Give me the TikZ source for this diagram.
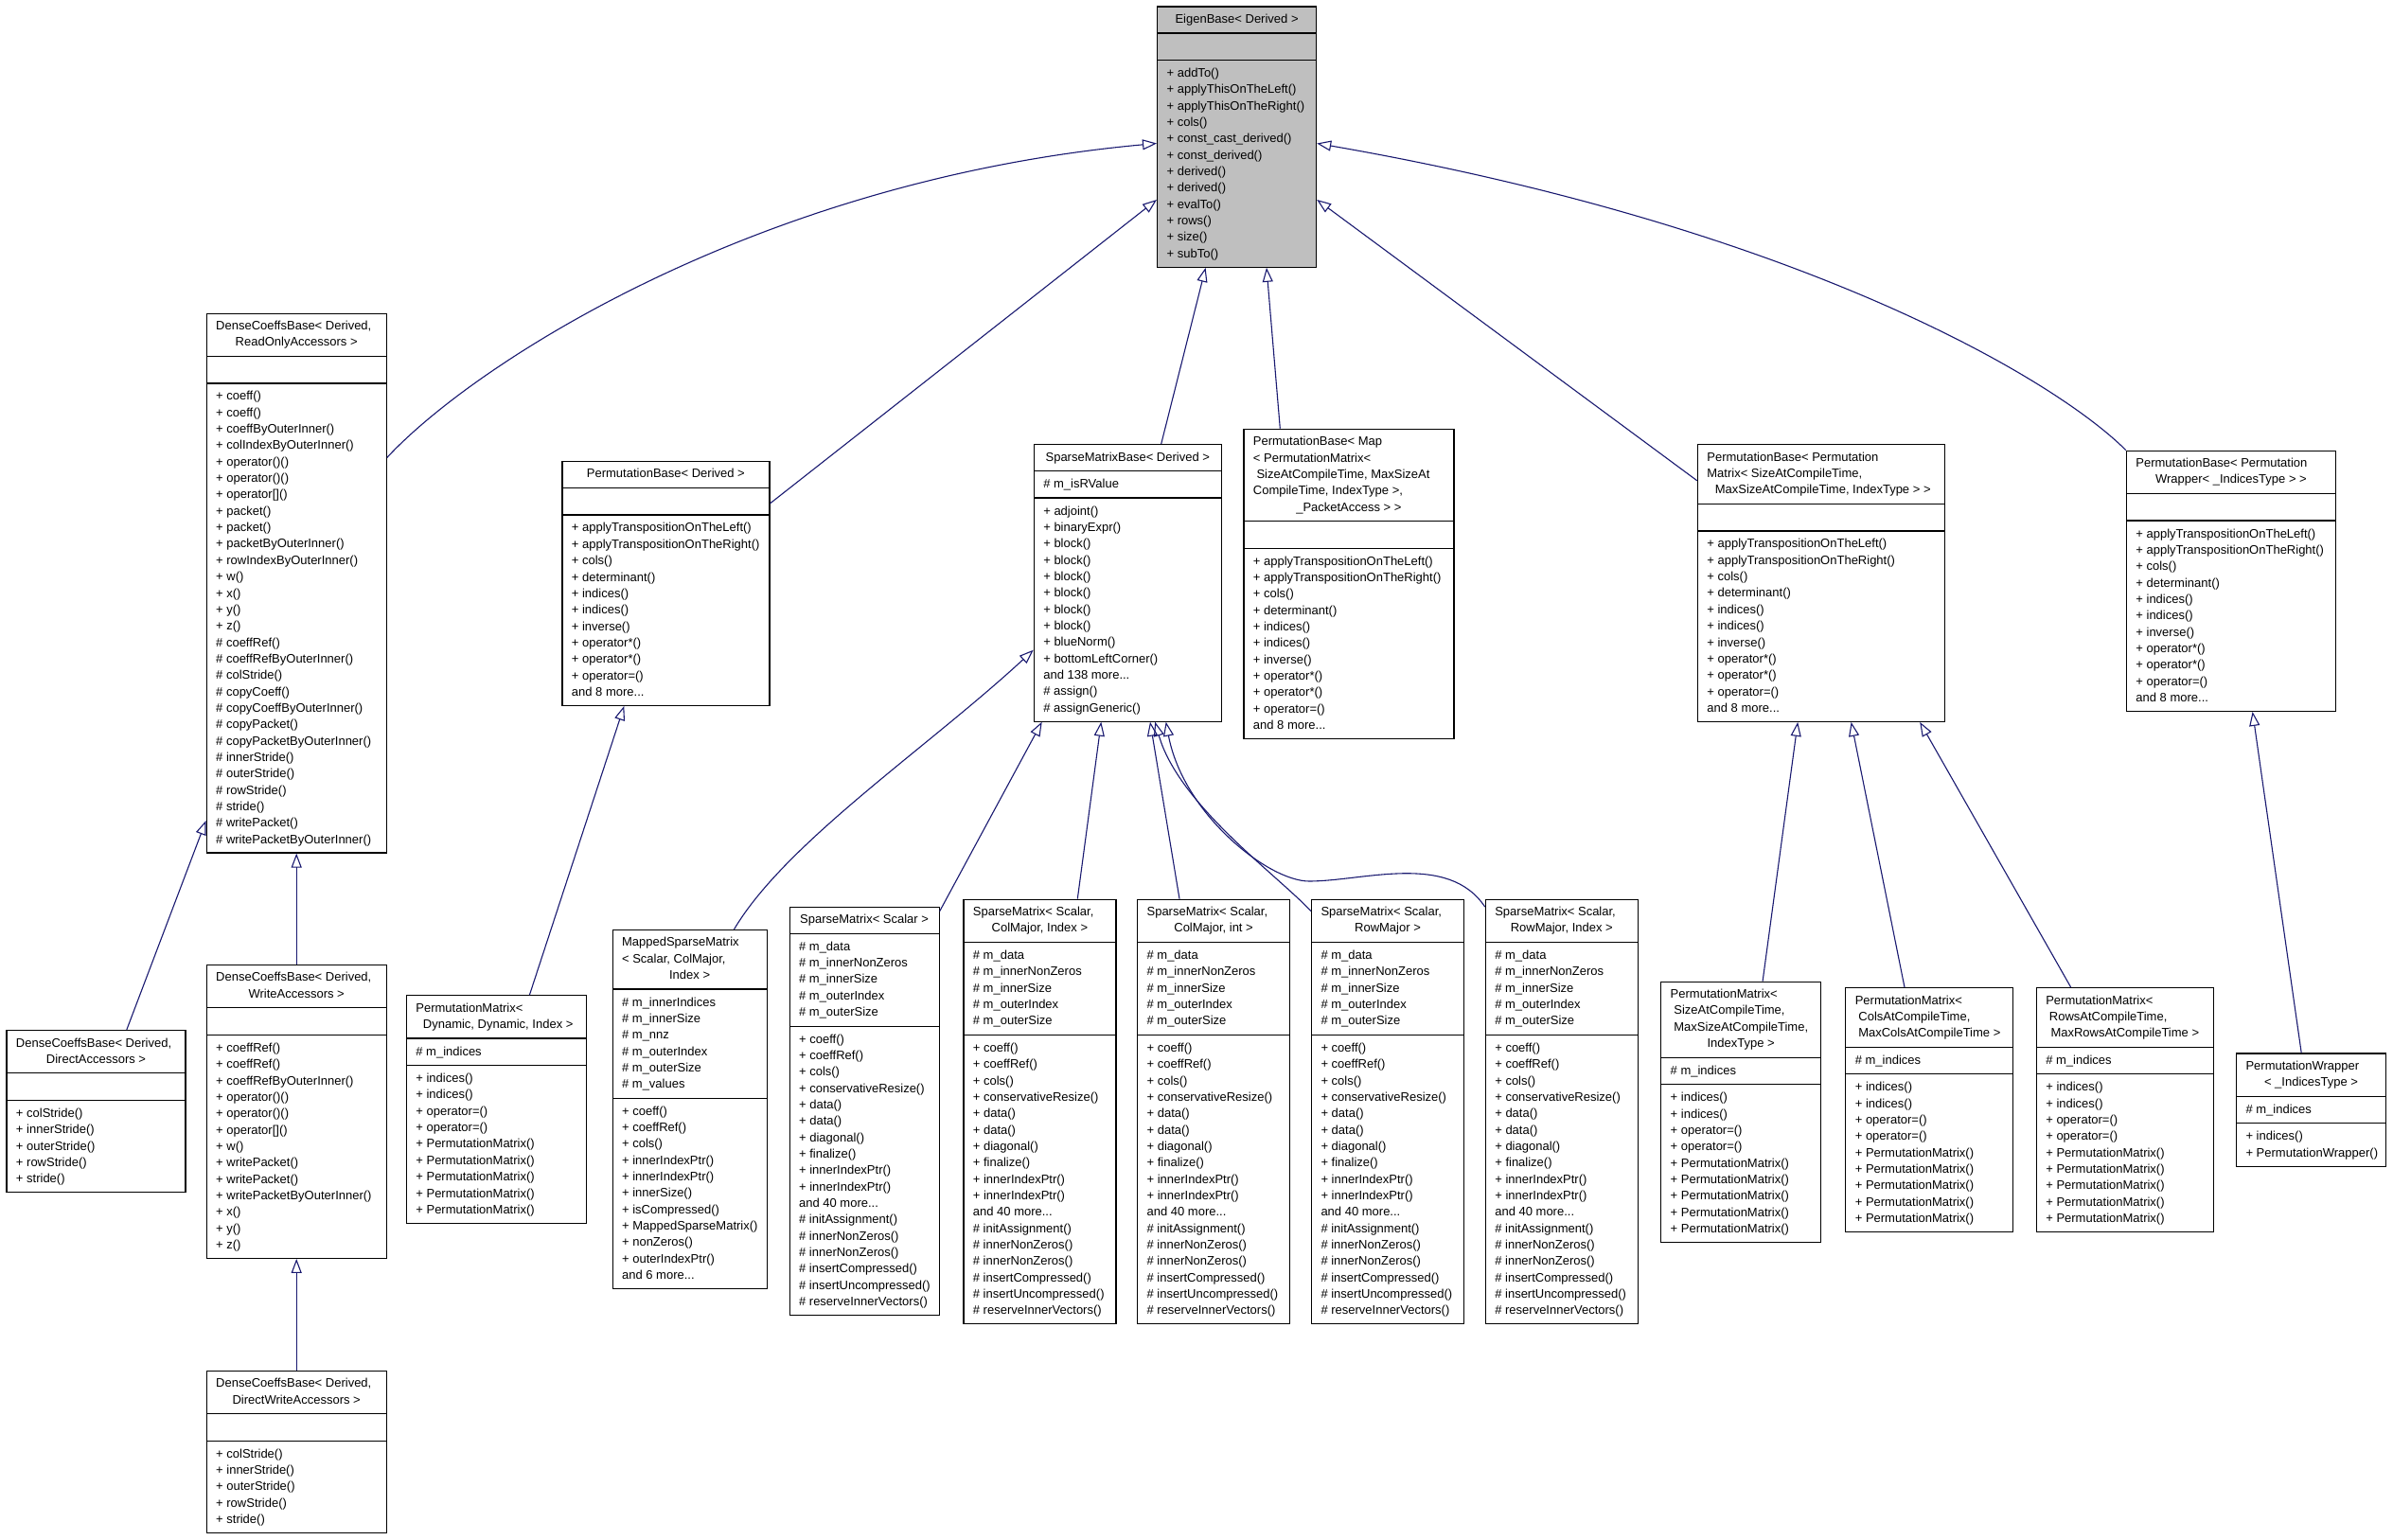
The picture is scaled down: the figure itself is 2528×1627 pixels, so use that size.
\documentclass[tikz,border=0pt]{standalone}
\usepackage{fontspec}
\usepackage{graphicx}
\setmainfont{Liberation Sans}
\usetikzlibrary{arrows.meta,calc}
\definecolor{edgeblue}{HTML}{191970}
\definecolor{ebfill}{HTML}{BFBFBF}
\newsavebox\zbox
\newcommand\zs{\vrule height6.2pt depth2.47pt width0pt}
\newcommand\zfit[2]{\sbox\zbox{#2}\ifdim\wd\zbox>#1\resizebox{#1}{\height}{\usebox\zbox}\else\usebox\zbox\fi}
\newcommand\zl[1]{\hbox to\hsize{\hskip5pt\zs\zfit{\dimexpr\hsize-8pt\relax}{#1}\hfil}}
\newcommand\zc[1]{\hbox to\hsize{\hfil\zs\zfit{\dimexpr\hsize-6pt\relax}{#1}\hfil}}
\newcommand\zsec[1]{\kern2.5pt#1\kern2.5pt}
\newcommand\zrule{\hrule height0.6pt}
\newcommand\clsbody[4]{\vbox{\hsize=\dimexpr#1pt/2\relax\offinterlineskip\zsec{#2}\zrule\zsec{#3}\zrule\zsec{#4}}}
\newcommand\zempty{\zl{}}
\newcommand\pbmeth{\zl{+ applyTranspositionOnTheLeft()}\zl{+ applyTranspositionOnTheRight()}\zl{+ cols()}\zl{+ determinant()}\zl{+ indices()}\zl{+ indices()}\zl{+ inverse()}\zl{+ operator*()}\zl{+ operator*()}\zl{+ operator=()}\zl{and 8 more...}}
\newcommand\pmmeth{\zl{+ indices()}\zl{+ indices()}\zl{+ operator=()}\zl{+ operator=()}\zl{+ PermutationMatrix()}\zl{+ PermutationMatrix()}\zl{+ PermutationMatrix()}\zl{+ PermutationMatrix()}\zl{+ PermutationMatrix()}}
\newcommand\smattr{\zl{\# m\_data}\zl{\# m\_innerNonZeros}\zl{\# m\_innerSize}\zl{\# m\_outerIndex}\zl{\# m\_outerSize}}
\newcommand\smmeth{\zl{+ coeff()}\zl{+ coeffRef()}\zl{+ cols()}\zl{+ conservativeResize()}\zl{+ data()}\zl{+ data()}\zl{+ diagonal()}\zl{+ finalize()}\zl{+ innerIndexPtr()}\zl{+ innerIndexPtr()}\zl{and 40 more...}\zl{\# initAssignment()}\zl{\# innerNonZeros()}\zl{\# innerNonZeros()}\zl{\# insertCompressed()}\zl{\# insertUncompressed()}\zl{\# reserveInnerVectors()}}
\newcommand\dameth{\zl{+ colStride()}\zl{+ innerStride()}\zl{+ outerStride()}\zl{+ rowStride()}\zl{+ stride()}}
\begin{document}
\begin{tikzpicture}[x=0.5pt,y=-0.5pt,
  cls/.style={draw=black, line width=0.6pt, fill=white, inner sep=0pt, anchor=north west, font=\fontsize{6.5}{8.67}\selectfont},
  inh/.style={draw=edgeblue, line width=0.55pt, -{Triangle[open,length=7.5pt,width=5.5pt]}}]
\fill[white] (0,0) rectangle (2528,1627);
\useasboundingbox (0,0) rectangle (2528,1627);

\node[cls,fill=ebfill] (EB) at (1222,6.5) {\clsbody{168}{\zc{EigenBase< Derived >}}{\zempty}{\zl{+ addTo()}\zl{+ applyThisOnTheLeft()}\zl{+ applyThisOnTheRight()}\zl{+ cols()}\zl{+ const\_cast\_derived()}\zl{+ const\_derived()}\zl{+ derived()}\zl{+ derived()}\zl{+ evalTo()}\zl{+ rows()}\zl{+ size()}\zl{+ subTo()}}};

\node[cls] (RO) at (217.6,330.5) {\clsbody{190}{\zl{DenseCoeffsBase< Derived,}\zc{ReadOnlyAccessors >}}{\zempty}{\zl{+ coeff()}\zl{+ coeff()}\zl{+ coeffByOuterInner()}\zl{+ colIndexByOuterInner()}\zl{+ operator()()}\zl{+ operator()()}\zl{+ operator[]()}\zl{+ packet()}\zl{+ packet()}\zl{+ packetByOuterInner()}\zl{+ rowIndexByOuterInner()}\zl{+ w()}\zl{+ x()}\zl{+ y()}\zl{+ z()}\zl{\# coeffRef()}\zl{\# coeffRefByOuterInner()}\zl{\# colStride()}\zl{\# copyCoeff()}\zl{\# copyCoeffByOuterInner()}\zl{\# copyPacket()}\zl{\# copyPacketByOuterInner()}\zl{\# innerStride()}\zl{\# outerStride()}\zl{\# rowStride()}\zl{\# stride()}\zl{\# writePacket()}\zl{\# writePacketByOuterInner()}}};

\node[cls] (PBD) at (593.3,486.9) {\clsbody{219}{\zc{PermutationBase< Derived >}}{\zempty}{\pbmeth}};

\node[cls] (SMB) at (1091.7,469) {\clsbody{198}{\zc{SparseMatrixBase< Derived >}}{\zl{\# m\_isRValue}}{\zl{+ adjoint()}\zl{+ binaryExpr()}\zl{+ block()}\zl{+ block()}\zl{+ block()}\zl{+ block()}\zl{+ block()}\zl{+ block()}\zl{+ blueNorm()}\zl{+ bottomLeftCorner()}\zl{and 138 more...}\zl{\# assign()}\zl{\# assignGeneric()}}};

\node[cls] (PBM) at (1313.3,452.7) {\clsbody{222}{\zl{PermutationBase< Map}\zl{< PermutationMatrix<}\zl{\ SizeAtCompileTime, MaxSizeAt}\zl{CompileTime, IndexType >,}\zc{\_PacketAccess > >}}{\zempty}{\pbmeth}};

\node[cls] (PBPM) at (1792.8,469.2) {\clsbody{261}{\zl{PermutationBase< Permutation}\zl{Matrix< SizeAtCompileTime,}\zc{\ MaxSizeAtCompileTime, IndexType > >}}{\zempty}{\pbmeth}};

\node[cls] (PBW) at (2245.8,475.6) {\clsbody{221}{\zl{PermutationBase< Permutation}\zc{Wrapper< \_IndicesType > >}}{\zempty}{\pbmeth}};

\node[cls] (DA) at (6.4,1088) {\clsbody{189}{\zl{DenseCoeffsBase< Derived,}\zc{DirectAccessors >}}{\zempty}{\dameth}};

\node[cls] (WA) at (217.6,1018.9) {\clsbody{190}{\zl{DenseCoeffsBase< Derived,}\zc{WriteAccessors >}}{\zempty}{\zl{+ coeffRef()}\zl{+ coeffRef()}\zl{+ coeffRefByOuterInner()}\zl{+ operator()()}\zl{+ operator()()}\zl{+ operator[]()}\zl{+ w()}\zl{+ writePacket()}\zl{+ writePacket()}\zl{+ writePacketByOuterInner()}\zl{+ x()}\zl{+ y()}\zl{+ z()}}};

\node[cls] (DWA) at (217.6,1447.8) {\clsbody{190}{\zl{DenseCoeffsBase< Derived,}\zc{DirectWriteAccessors >}}{\zempty}{\dameth}};

\node[cls] (PMD) at (428.8,1051.2) {\clsbody{190}{\zl{PermutationMatrix<}\zc{\ Dynamic, Dynamic, Index >}}{\zl{\# m\_indices}}{\pmmeth}};

\node[cls] (MSM) at (646.5,981.8) {\clsbody{163}{\zl{MappedSparseMatrix}\zl{< Scalar, ColMajor,}\zc{Index >}}{\zl{\# m\_innerIndices}\zl{\# m\_innerSize}\zl{\# m\_nnz}\zl{\# m\_outerIndex}\zl{\# m\_outerSize}\zl{\# m\_values}}{\zl{+ coeff()}\zl{+ coeffRef()}\zl{+ cols()}\zl{+ innerIndexPtr()}\zl{+ innerIndexPtr()}\zl{+ innerSize()}\zl{+ isCompressed()}\zl{+ MappedSparseMatrix()}\zl{+ nonZeros()}\zl{+ outerIndexPtr()}\zl{and 6 more...}}};

\node[cls] (SMS) at (833.5,957.7) {\clsbody{158}{\zc{SparseMatrix< Scalar >}}{\smattr}{\smmeth}};
\node[cls] (SMCI) at (1017.3,949.6) {\clsbody{161}{\zl{SparseMatrix< Scalar,}\zc{ColMajor, Index >}}{\smattr}{\smmeth}};
\node[cls] (SMCi) at (1201,949.6) {\clsbody{161}{\zl{SparseMatrix< Scalar,}\zc{ColMajor, int >}}{\smattr}{\smmeth}};
\node[cls] (SMR) at (1384.9,949.6) {\clsbody{161}{\zl{SparseMatrix< Scalar,}\zc{RowMajor >}}{\smattr}{\smmeth}};
\node[cls] (SMRI) at (1568.7,949.6) {\clsbody{161}{\zl{SparseMatrix< Scalar,}\zc{RowMajor, Index >}}{\smattr}{\smmeth}};

\node[cls] (PMS) at (1754.1,1036.6) {\clsbody{169}{\zl{PermutationMatrix<}\zl{\ SizeAtCompileTime,}\zl{\ MaxSizeAtCompileTime,}\zc{IndexType >}}{\zl{\# m\_indices}}{\pmmeth}};
\node[cls] (PMC) at (1949.2,1043.1) {\clsbody{177}{\zl{PermutationMatrix<}\zl{\ ColsAtCompileTime,}\zc{MaxColsAtCompileTime >}}{\zl{\# m\_indices}}{\pmmeth}};
\node[cls] (PMR) at (2150.7,1043.1) {\clsbody{187}{\zl{PermutationMatrix<}\zl{\ RowsAtCompileTime,}\zc{MaxRowsAtCompileTime >}}{\zl{\# m\_indices}}{\pmmeth}};
\node[cls] (PW) at (2361.9,1112.4) {\clsbody{158}{\zl{PermutationWrapper}\zc{< \_IndicesType >}}{\zl{\# m\_indices}}{\zl{+ indices()}\zl{+ PermutationWrapper()}}};

% inheritance edges
\draw[inh] ($(RO.north east)+(0,153)$) .. controls (500,385) and (800,190) .. ($(EB.north west)+(0,145)$);
\draw[inh] ($(PBD.north east)+(0,45)$) -- ($(EB.north west)+(0,204.5)$);
\draw[inh] ($(SMB.north west)+(135,0)$) -- ($(EB.south west)+(51.6,0)$);
\draw[inh] ($(PBM.north west)+(39,0)$) -- ($(EB.south west)+(116,0)$);
\draw[inh] ($(PBPM.north west)+(0,38.6)$) -- ($(EB.north east)+(0,204.5)$);
\draw[inh] (PBW.north west) .. controls (2170,400) and (1900,240) .. ($(EB.north east)+(0,145)$);

\draw[inh] ($(DA.north west)+(127.4,0)$) -- ($(RO.north west)+(0,536.5)$);
\draw[inh] (WA.north) -- (RO.south);
\draw[inh] (DWA.north) -- (WA.south);
\draw[inh] ($(PMD.north west)+(130.6,0)$) -- ($(PBD.south west)+(66,0)$);
\draw[inh] ($(MSM.north west)+(129,0)$) .. controls (830,890) and (980,790) .. ($(SMB.north west)+(0,217.7)$);
\draw[inh] ($(SMS.north east)+(0,5)$) -- ($(SMB.south west)+(9,0)$);
\draw[inh] ($(SMCI.north west)+(121,0)$) -- ($(SMB.south west)+(71.6,0)$);
\draw[inh] ($(SMCi.north west)+(45,0)$) -- ($(SMB.south west)+(123.3,0)$);
\draw[inh] ($(SMR.north west)+(0,13)$) .. controls (1350,925) and (1245,850) .. ($(SMB.south west)+(128.5,0)$);
\draw[inh] ($(SMRI.north west)+(0,8.5)$) .. controls (1530,900) and (1440,931) .. (1383,931) .. controls (1340,931) and (1250,860) .. ($(SMB.south west)+(140,0)$);

\draw[inh] ($(PMS.north west)+(108,0)$) -- ($(PBPM.south west)+(106.4,0)$);
\draw[inh] ($(PMC.north west)+(62.8,0)$) -- ($(PBPM.south west)+(162.8,0)$);
\draw[inh] ($(PMR.north west)+(37,0)$) -- ($(PBPM.south west)+(235.4,0)$);
\draw[inh] ($(PW.north west)+(69.3,0)$) -- ($(PBW.south west)+(133.8,0)$);
\end{tikzpicture}
\end{document}
